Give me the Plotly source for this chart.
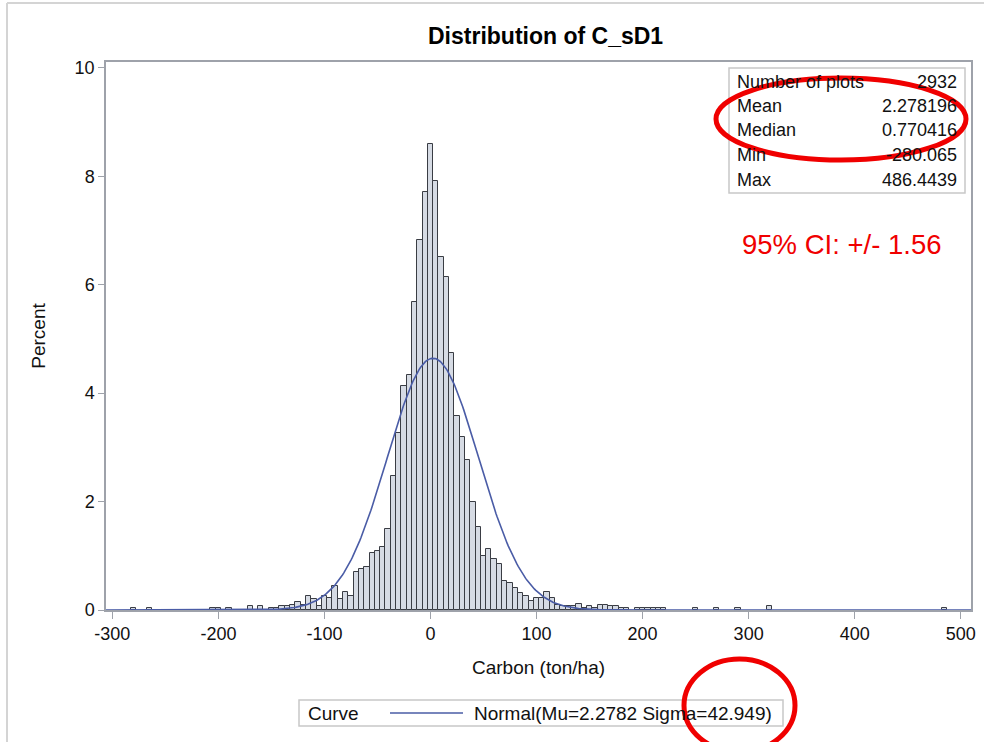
import numpy as np
import plotly.graph_objects as go

# Histogram of C_sD1 (bin width 5 ton/ha), percent of plots per bin
bin_centers = [-280, -265, -205, -200, -190, -170, -160, -150, -145, -140,
               -135, -130, -125, -120, -115, -110, -105, -100, -95, -90,
               -85, -80, -75, -70, -65, -60, -55, -50, -45, -40,
               -35, -30, -25, -20, -15, -10, -5, 0, 5, 10,
               15, 20, 25, 30, 35, 40, 45, 50, 55, 60,
               65, 70, 75, 80, 85, 90, 95, 100, 105, 110,
               115, 120, 125, 130, 135, 140, 145, 150, 155, 160,
               165, 170, 175, 180, 185, 195, 200, 205, 210, 215,
               220, 250, 270, 290, 320, 485]
percent = [0.034, 0.034, 0.034, 0.034, 0.034, 0.068, 0.068, 0.034, 0.034, 0.068,
           0.068, 0.10, 0.14, 0.10, 0.26, 0.20, 0.08, 0.26, 0.22, 0.44,
           0.20, 0.34, 0.26, 0.71, 0.75, 0.80, 1.05, 1.09, 1.16, 1.49,
           2.48, 3.27, 4.13, 4.34, 5.69, 6.83, 7.72, 8.60, 7.92, 6.52,
           6.15, 4.74, 3.58, 3.20, 2.77, 2.00, 1.54, 1.00, 1.12, 0.95,
           0.84, 0.54, 0.50, 0.40, 0.31, 0.25, 0.17, 0.23, 0.23, 0.33,
           0.22, 0.10, 0.08, 0.08, 0.07, 0.12, 0.034, 0.08, 0.034, 0.10,
           0.10, 0.07, 0.07, 0.034, 0.034, 0.034, 0.034, 0.034, 0.034, 0.034,
           0.034, 0.034, 0.034, 0.034, 0.068, 0.034]
BIN_WIDTH = 5

# Fitted normal parameters
MU = 2.2782
SIGMA = 42.949

# Summary statistics table
stat_labels = ["Number of plots", "Mean", "Median", "Min", "Max"]
stat_values = ["2932", "2.278196", "0.770416", "-280.065", "486.4439"]

x_ticks = [-300, -200, -100, 0, 100, 200, 300, 400, 500]
y_ticks = [0, 2, 4, 6, 8, 10]

W, H = 984, 742
ML, MR, MT, MB = 106, 13, 62, 132
PW, PH = W - ML - MR, H - MT - MB
FONT = "Liberation Sans, Arial, Helvetica, sans-serif"
AXIS_GRAY = "#9ea2aa"
CURVE_BLUE = "#4a5ca6"
RED = "#f00000"


def px(xp):
    return (xp - ML) / PW


def py(yp):
    return (H - MB - yp) / PH


curve_x = np.linspace(-306, 510, 700)
curve_y = 100 * BIN_WIDTH * np.exp(-0.5 * ((curve_x - MU) / SIGMA) ** 2) / (SIGMA * np.sqrt(2 * np.pi))
curve_name = f"Normal(Mu={MU} Sigma={SIGMA})"

fig = go.Figure()
fig.add_trace(go.Bar(
    x=bin_centers, y=percent, width=[BIN_WIDTH] * len(bin_centers),
    marker=dict(color="#d6dbe4", line=dict(color="#3a3d44", width=1)),
    showlegend=False, hoverinfo="x+y",
))
fig.add_trace(go.Scatter(
    x=curve_x, y=curve_y, mode="lines",
    line=dict(color=CURVE_BLUE, width=1.6),
    name=curve_name, showlegend=False,
))

annotations = [
    dict(text="<b>Distribution of C_sD1</b>", xref="paper", yref="paper",
         x=px(545), y=py(36), xanchor="center", yanchor="middle",
         showarrow=False, font=dict(size=23, color="#000", family=FONT)),
    dict(text="95% CI: +/- 1.56", xref="paper", yref="paper",
         x=px(740), y=py(244), xanchor="left", yanchor="middle",
         showarrow=False, font=dict(size=27.5, color=RED, family=FONT)),
    # curve legend entries
    dict(text="Curve", xref="paper", yref="paper", x=px(306), y=py(713),
         xanchor="left", yanchor="middle", showarrow=False,
         font=dict(size=19, color="#111", family=FONT)),
    dict(text=curve_name, xref="paper", yref="paper", x=px(472), y=py(713),
         xanchor="left", yanchor="middle", showarrow=False,
         font=dict(size=19, color="#111", family=FONT)),
]
row_y = [82, 106, 130, 155, 180]
for lab, val, yy in zip(stat_labels, stat_values, row_y):
    annotations.append(dict(text=lab, xref="paper", yref="paper", x=px(735), y=py(yy),
                            xanchor="left", yanchor="middle", showarrow=False,
                            font=dict(size=18, color="#111", family=FONT)))
    annotations.append(dict(text=val, xref="paper", yref="paper", x=px(959), y=py(yy),
                            xanchor="right", yanchor="middle", showarrow=False,
                            font=dict(size=18, color="#111", family=FONT)))

shapes = [
    # stats table frame
    dict(type="rect", xref="paper", yref="paper", x0=px(729), x1=px(965), y0=py(193), y1=py(68),
         line=dict(color="#c8c8c8", width=1.5), fillcolor="rgba(255,255,255,0)"),
    # legend frame and line sample
    dict(type="rect", xref="paper", yref="paper", x0=px(299), x1=px(783), y0=py(726), y1=py(700),
         line=dict(color="#c8c8c8", width=1.5), fillcolor="rgba(255,255,255,0)"),
    dict(type="line", xref="paper", yref="paper", x0=px(390), x1=px(463), y0=py(713), y1=py(713),
         line=dict(color=CURVE_BLUE, width=1.6)),
    # outer page edges
    dict(type="line", xref="paper", yref="paper", x0=px(7), x1=px(984), y0=py(3), y1=py(3),
         line=dict(color="#d4d4d4", width=2)),
    dict(type="line", xref="paper", yref="paper", x0=px(7), x1=px(7), y0=py(3), y1=py(742),
         line=dict(color="#d4d4d4", width=2)),
    # red highlight ellipses
    dict(type="circle", xref="paper", yref="paper", x0=px(716), x1=px(966), y0=py(160), y1=py(78),
         line=dict(color=RED, width=5)),
    dict(type="circle", xref="paper", yref="paper", x0=px(684), x1=px(795), y0=py(752), y1=py(659),
         line=dict(color=RED, width=5)),
]

fig.update_layout(
    width=W, height=H, margin=dict(l=ML, r=MR, t=MT, b=MB, autoexpand=False),
    paper_bgcolor="white", plot_bgcolor="white",
    font=dict(family=FONT, size=18, color="#111"),
    bargap=0, showlegend=False,
    annotations=annotations, shapes=shapes,
)
fig.update_xaxes(
    range=[-306, 509.7], tickvals=x_ticks, ticktext=[str(v) for v in x_ticks],
    showline=True, mirror=True, linecolor=AXIS_GRAY, linewidth=1.5,
    ticks="outside", ticklen=7, tickcolor=AXIS_GRAY, showgrid=False, zeroline=False,
    title=dict(text="Carbon (ton/ha)", standoff=17, font=dict(size=19)),
    tickfont=dict(size=18), automargin=False,
)
fig.update_yaxes(
    range=[0, 10.11], tickvals=y_ticks, ticktext=[str(v) for v in y_ticks],
    showline=True, mirror=True, linecolor=AXIS_GRAY, linewidth=1.5,
    ticks="outside", ticklen=6, tickcolor=AXIS_GRAY, showgrid=False, zeroline=False,
    title=dict(text="Percent", standoff=24, font=dict(size=19)),
    tickfont=dict(size=18), automargin=False,
)

fig.write_html("out.html")
